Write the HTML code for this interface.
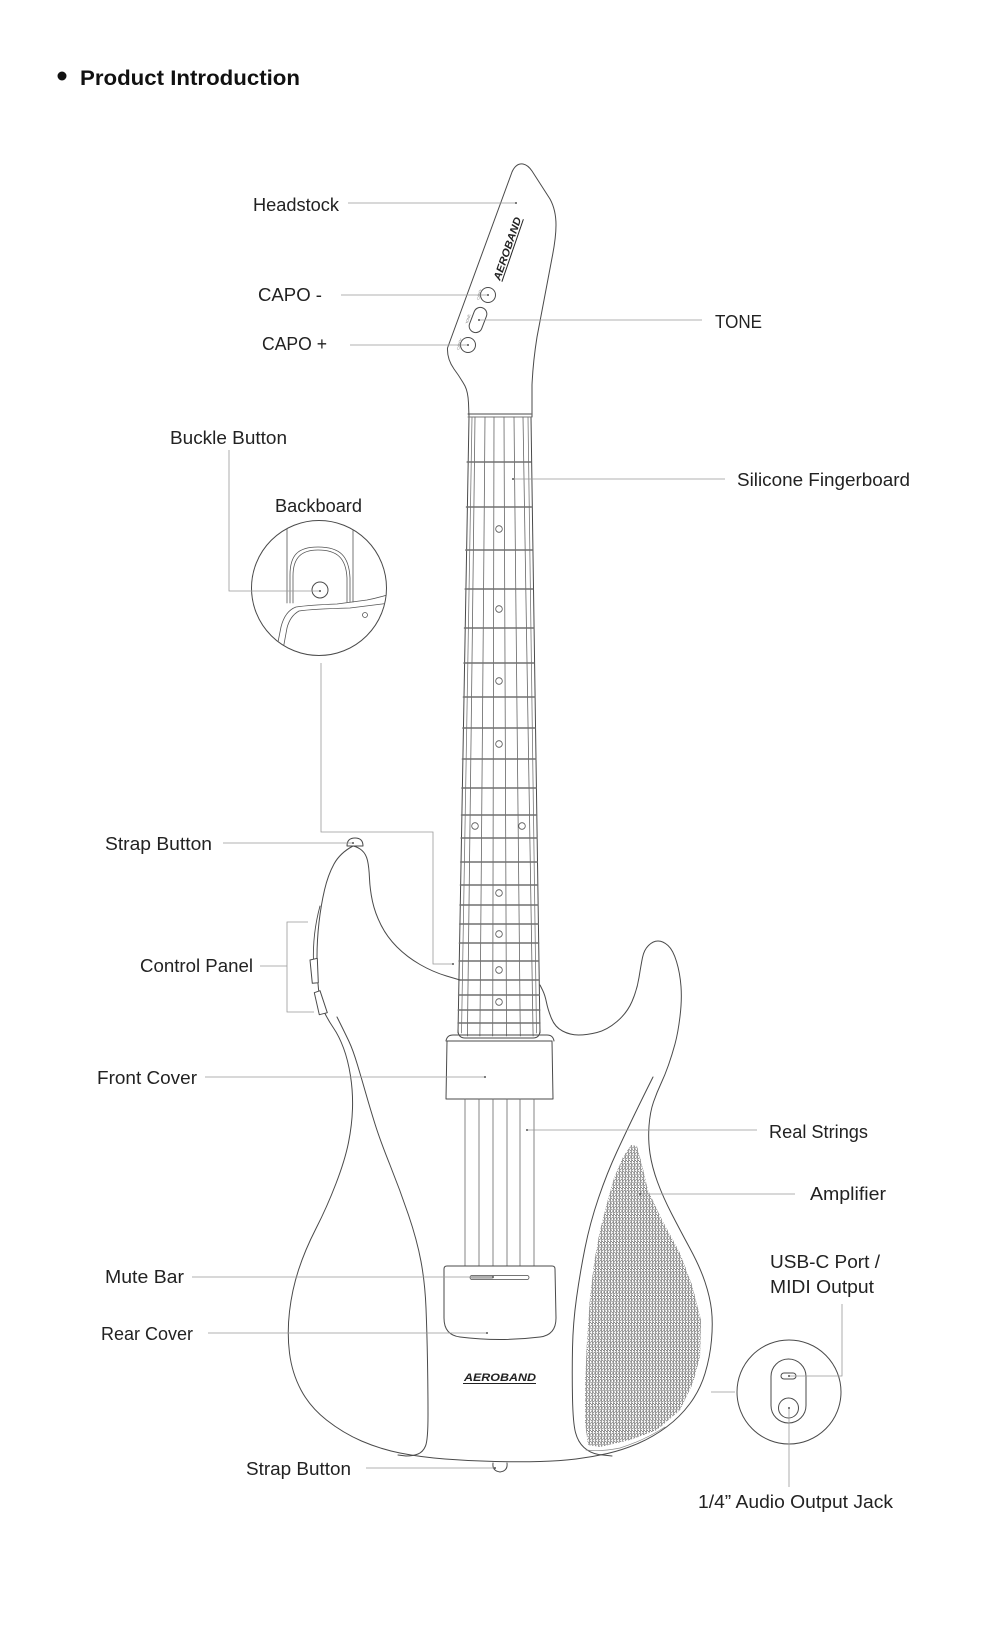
<!DOCTYPE html>
<html>
<head>
<meta charset="utf-8">
<style>
html,body{margin:0;padding:0;background:#fff;}
svg{display:block;}
</style>
</head>
<body>
<svg xmlns="http://www.w3.org/2000/svg" width="1000" height="1642" viewBox="0 0 1000 1642" font-family="'Liberation Sans', Arial, sans-serif">
<defs>
  <pattern id="dots" patternUnits="userSpaceOnUse" width="3.0" height="5.4">
    <circle cx="0.75" cy="1.35" r="1.05" fill="none" stroke="#555" stroke-width="0.55"/>
    <circle cx="2.25" cy="4.05" r="1.05" fill="none" stroke="#555" stroke-width="0.55"/>
  </pattern>
  <clipPath id="bbclip"><circle cx="319" cy="588" r="67"/></clipPath>
</defs>
<rect width="1000" height="1642" fill="#fff"/>

<!-- Title -->
<circle cx="62" cy="76" r="4.5" fill="#111"/>
<text x="80" y="85" font-size="21" font-weight="bold" fill="#111" textLength="220" lengthAdjust="spacingAndGlyphs">Product Introduction</text>

<!-- ===== Guitar drawing ===== -->
<g fill="none" stroke="#4a4a4a" stroke-width="1" stroke-linecap="round" stroke-linejoin="round">
  <!-- Headstock -->
  <path d="M469,417 L468.5,403 Q468,392 465,386 Q460,377 454,369 Q447,359 447.5,348 L512,172 Q516,163 523,164 Q528,165 532,171 L550,199 Q556,210 556,225 Q556,238 552,258 L537,337 Q533,362 532,385 L532,417"/>
  <!-- headstock buttons -->
  <circle cx="488" cy="295" r="7.5"/>
  <rect x="471.5" y="307" width="13" height="26" rx="6.5" transform="rotate(21 478 320)"/>
  <circle cx="468" cy="345" r="7.5"/>

  <!-- Neck -->
  <path d="M469,417 L458,1033"/>
  <path d="M531,417 L540,1033"/>
  <path d="M472,417 L461.5,1033" stroke="#777" stroke-width="0.8"/>
  <path d="M528,417 L536.5,1033" stroke="#777" stroke-width="0.8"/>
  <path d="M458,1030 Q458,1038 465,1038 L533,1038 Q540,1038 540,1030"/>
  <line x1="468" y1="414" x2="531" y2="414"/>
  <line x1="468" y1="417" x2="531" y2="417" stroke="#777"/>

  <!-- Strings on neck -->
  <g stroke="#666" stroke-width="0.8">
    <line x1="475" y1="417" x2="467.4" y2="1036"/>
    <line x1="485" y1="417" x2="479.9" y2="1036"/>
    <line x1="494" y1="417" x2="492.7" y2="1036"/>
    <line x1="504" y1="417" x2="506.5" y2="1036"/>
    <line x1="514" y1="417" x2="520.3" y2="1036"/>
    <line x1="523" y1="417" x2="533.1" y2="1036"/>
  </g>

  <!-- Frets -->
  <g stroke="#707070" stroke-width="1.5">
    <line x1="467.2" y1="462" x2="530.8" y2="462"/>
    <line x1="466.5" y1="507" x2="531.5" y2="507"/>
    <line x1="465.8" y1="550" x2="532.2" y2="550"/>
    <line x1="465.2" y1="589" x2="532.8" y2="589"/>
    <line x1="464.5" y1="628" x2="533.5" y2="628"/>
    <line x1="464.0" y1="663" x2="534.0" y2="663"/>
    <line x1="463.4" y1="697" x2="534.6" y2="697"/>
    <line x1="462.9" y1="728" x2="535.1" y2="728"/>
    <line x1="462.4" y1="759" x2="535.6" y2="759"/>
    <line x1="461.9" y1="788" x2="536.1" y2="788"/>
    <line x1="461.5" y1="815" x2="536.5" y2="815"/>
    <line x1="461.1" y1="838" x2="536.9" y2="838"/>
    <line x1="460.7" y1="862" x2="537.3" y2="862"/>
    <line x1="460.4" y1="885" x2="537.6" y2="885"/>
    <line x1="460.0" y1="905" x2="538.0" y2="905"/>
    <line x1="459.7" y1="924" x2="538.3" y2="924"/>
    <line x1="459.4" y1="943" x2="538.6" y2="943"/>
    <line x1="459.1" y1="961" x2="538.9" y2="961"/>
    <line x1="458.8" y1="980" x2="539.2" y2="980"/>
    <line x1="458.6" y1="995" x2="539.4" y2="995"/>
    <line x1="458.3" y1="1010" x2="539.7" y2="1010"/>
    <line x1="458.1" y1="1023" x2="539.9" y2="1023"/>
  </g>

  <!-- Fret markers -->
  <g fill="#fff" stroke="#555" stroke-width="0.8">
    <circle cx="499" cy="529" r="3.3"/>
    <circle cx="499" cy="609" r="3.3"/>
    <circle cx="499" cy="681" r="3.3"/>
    <circle cx="499" cy="744" r="3.3"/>
    <circle cx="475" cy="826" r="3.3"/>
    <circle cx="522" cy="826" r="3.3"/>
    <circle cx="499" cy="893" r="3.3"/>
    <circle cx="499" cy="934" r="3.3"/>
    <circle cx="499" cy="970" r="3.3"/>
    <circle cx="499" cy="1002" r="3.3"/>
  </g>

  <!-- Body outline -->
  <path d="M353,846 Q340,853 334,864 Q328,875 324.5,890 Q321,905 319,922.5 Q317,940 317,957.5 Q317,975 318.5,989 Q320,1003 324,1011.5 Q328,1020 333.5,1028 Q339,1036 343.5,1048 Q348,1060 350.5,1076 Q353,1092 352.5,1108.5 Q352,1125 348.5,1142.5 Q345,1160 336,1183.5 Q327,1207 316,1228.5 Q305,1250 298.5,1270 Q292,1290 289.5,1311.5 Q287,1333 289.5,1353 Q292,1373 301,1390 Q310,1407 326.5,1420 Q343,1433 361.5,1441 Q380,1449 400,1453 Q420,1457 445,1459 Q470,1461 495,1461.5 Q520,1462 540,1461.5 Q560,1461 576,1459 Q592,1457 607.5,1453.5 Q623,1450 638,1443.5 Q653,1437 666.5,1427 Q680,1417 690,1403.5 Q700,1390 705,1373.5 Q710,1357 711.5,1340 Q713,1323 711.5,1310 Q710,1297 705,1282 Q700,1267 690,1248.5 Q680,1230 671.5,1213.5 Q663,1197 657.5,1182 Q652,1167 650,1153.5 Q648,1140 649,1126 Q650,1112 653.5,1102 Q657,1092 661,1083.5 Q665,1075 668.5,1065 Q672,1055 675,1044 Q678,1033 680,1016.5 Q682,1000 681,986.5 Q680,973 676.5,961.5 Q673,950 668,945.5 Q663,941 658,941 Q653,941 648.5,945.5 Q644,950 642.5,957.5 Q641,965 639,977.5 Q637,990 632,1001.5 Q627,1013 617,1021.5 Q607,1030 597,1032.5 Q587,1035 578.5,1035 Q570,1035 562.5,1031 Q555,1027 551.5,1018.5 Q548,1010 546.5,1002.5 Q545,995 542.5,990 L540,985"/>
  <!-- Left horn inner edge -->
  <path d="M353,846 Q358,847 362,850.5 Q366,854 367.5,860.5 Q369,867 369.5,878.5 Q370,890 372.5,901.5 Q375,913 381,925 Q387,937 397,947 Q407,957 420,964.5 Q433,972 446.5,976 L460,980"/>
  <!-- Left panel seam -->
  <path d="M337,1017 Q345,1033 349,1041.5 Q353,1050 357.5,1065 Q362,1080 366,1094 Q370,1108 375,1124 Q380,1140 390,1165 Q400,1190 408.5,1215 Q417,1240 421,1261.5 Q425,1283 426,1308 Q427,1333 427.5,1361.5 Q428,1390 428,1415 Q428,1440 425.5,1446 Q423,1452 418,1454 Q413,1456 406,1456 L398,1455"/>
  <!-- Amplifier panel left edge -->
  <path d="M653,1077 Q643,1097 635,1113.5 Q627,1130 617,1151.5 Q607,1173 598.5,1198 Q590,1223 585,1248 Q580,1273 576.5,1298 Q573,1323 572.5,1348 Q572,1373 572.5,1398 Q573,1423 575.5,1432.5 Q578,1442 584,1447.5 Q590,1453 598.5,1454.5 L612,1456"/>
  <path d="M586,1450 Q600,1452 620,1448 Q645,1440 665,1427" stroke="#888" stroke-width="0.7"/>

  <!-- Control panel -->
  <path d="M320,906 C314,928 313,948 313.5,962" stroke-width="0.9"/>
  <path d="M310,960 L317.3,958.3 L318.3,982.7 L312.3,983.3 Z" fill="#fff"/>
  <path d="M314.3,992.7 L320,990.7 L327.3,1012.7 L319.3,1014.7 Z" fill="#fff"/>

  <!-- Strap buttons -->
  <path d="M347,846 Q347,838 355,838 Q363,838 363,846 Z" fill="#fff"/>
  <path d="M493,1463 Q492,1471 500,1472 Q508,1471 507,1463" fill="#fff"/>

  <!-- Front cover -->
  <path d="M446,1041 Q447,1035 453,1035 L547,1035 Q553,1035 554,1041"/>
  <path d="M447,1041 L552,1041 L553,1099 L446,1099 Z"/>

  <!-- Strings below cover -->
  <g stroke="#666" stroke-width="0.8">
    <line x1="465" y1="1099" x2="465" y2="1266"/>
    <line x1="479" y1="1099" x2="479" y2="1266"/>
    <line x1="493" y1="1099" x2="493" y2="1266"/>
    <line x1="507" y1="1099" x2="507" y2="1266"/>
    <line x1="520" y1="1099" x2="520" y2="1266"/>
    <line x1="534" y1="1099" x2="534" y2="1266"/>
  </g>

  <!-- Rear cover -->
  <path d="M444,1269 Q444,1266 447,1266 L552,1266 Q555,1266 555,1269 L556,1318 Q556,1335 540,1337 Q500,1342 460,1337 Q444,1335 444,1318 Z"/>
  <!-- Mute bar -->
  <rect x="470" y="1275.5" width="59" height="4" rx="2" stroke-width="0.8"/>
  <rect x="470.5" y="1276" width="23" height="3" rx="1.5" fill="#bbb" stroke="none"/>

  <!-- Jack inset -->
  <circle cx="789" cy="1392" r="52"/>
  <rect x="771" y="1359" width="35" height="64" rx="17.5"/>
  <rect x="781" y="1373" width="15" height="6" rx="3"/>
  <circle cx="788.5" cy="1408" r="10"/>

  <!-- Backboard inset -->
  <circle cx="319" cy="588" r="67.5"/>
  <g clip-path="url(#bbclip)" stroke="#555" stroke-width="0.8">
    <line x1="287" y1="515" x2="287" y2="603"/>
    <line x1="353" y1="515" x2="353" y2="602"/>
    <path d="M290,603 L290,575 C290,555 298,547 318,547 C340,547 349,556 350,578 L350,602"/>
    <path d="M293,603 L293,576 C293,558 301,550 318,550 C337,550 346,558 347,578 L347,602"/>
    <path d="M276,652 L281,627 Q285,611 296,607 Q310,605 337,604 L367,600 Q378,598 390,594"/>
    <path d="M282,655 L287,628 Q290,616 299,611 Q312,609 350,608 L390,603"/>
    <circle cx="365" cy="615" r="2.5"/>
  </g>
  <circle cx="320" cy="590" r="8"/>
</g>

<!-- Speaker grille dots -->
<path d="M631,1145 L637,1146 L642,1165 L648,1190 L662,1220 L680,1253 L692,1285 L701,1320 L700,1357 L693,1383 L680,1410 L657,1430 L630,1440 L600,1447 L588,1445 L585,1423 L585,1383 L587,1340 L590,1297 L594,1263 L600,1230 L607,1203 L614,1178 L623,1157 Z" fill="url(#dots)" stroke="none"/>

<!-- Logos -->
<g transform="translate(500,281) rotate(-71)">
  <text x="0" y="0" font-size="10.5" font-weight="bold" font-style="italic" fill="#222" textLength="66" lengthAdjust="spacingAndGlyphs">AEROBAND</text>
  <line x1="0" y1="2" x2="66" y2="2" stroke="#222" stroke-width="1"/>
</g>
<text x="464" y="1381" font-size="11" font-weight="bold" font-style="italic" fill="#222" textLength="72" lengthAdjust="spacingAndGlyphs">AEROBAND</text>
<line x1="463" y1="1383.5" x2="536" y2="1383.5" stroke="#222" stroke-width="1"/>

<!-- tiny button captions -->
<g font-size="3.5" fill="#777">
  <text transform="translate(479,300) rotate(-75)">CAPO-</text>
  <text transform="translate(468,324) rotate(-75)">TONE</text>
  <text transform="translate(459,350) rotate(-75)">CAPO+</text>
</g>

<!-- ===== Leader lines ===== -->
<g fill="none" stroke="#999" stroke-width="0.8">
  <line x1="348" y1="203" x2="516" y2="203"/>
  <line x1="341" y1="295" x2="488" y2="295"/>
  <line x1="350" y1="345" x2="468" y2="345"/>
  <line x1="479" y1="320" x2="702" y2="320"/>
  <polyline points="229,450 229,591 320,591"/>
  <line x1="513" y1="479" x2="725" y2="479"/>
  <polyline points="321,663 321,832 433,832 433,964 453,964"/>
  <line x1="223" y1="843" x2="353" y2="843"/>
  <line x1="260" y1="966" x2="287" y2="966"/>
  <polyline points="308,922 287,922 287,1012 314,1012"/>
  <line x1="205" y1="1077" x2="485" y2="1077"/>
  <line x1="527" y1="1130" x2="757" y2="1130"/>
  <line x1="640" y1="1194" x2="795" y2="1194"/>
  <line x1="192" y1="1277" x2="493" y2="1277"/>
  <line x1="208" y1="1333" x2="487" y2="1333"/>
  <polyline points="789,1376 842,1376 842,1304"/>
  <line x1="789" y1="1408" x2="789" y2="1487"/>
  <line x1="711" y1="1392" x2="735" y2="1392"/>
  <line x1="366" y1="1468" x2="495" y2="1468"/>
</g>
<g fill="#555">
  <circle cx="516" cy="203" r="1"/>
  <circle cx="488" cy="295" r="1"/>
  <circle cx="468" cy="345" r="1"/>
  <circle cx="479" cy="320" r="1"/>
  <circle cx="320" cy="591" r="1"/>
  <circle cx="513" cy="479" r="1"/>
  <circle cx="453" cy="964" r="1"/>
  <circle cx="353" cy="843" r="1"/>
  <circle cx="485" cy="1077" r="1"/>
  <circle cx="527" cy="1130" r="1"/>
  <circle cx="640" cy="1194" r="1"/>
  <circle cx="493" cy="1277" r="1"/>
  <circle cx="487" cy="1333" r="1"/>
  <circle cx="789" cy="1376" r="1"/>
  <circle cx="789" cy="1408" r="1"/>
  <circle cx="495" cy="1468" r="1"/>
</g>

<!-- ===== Labels ===== -->
<g font-size="18" fill="#222">
  <text x="253" y="211" textLength="86" lengthAdjust="spacingAndGlyphs">Headstock</text>
  <text x="258" y="301" textLength="64" lengthAdjust="spacingAndGlyphs">CAPO -</text>
  <text x="262" y="350" textLength="65" lengthAdjust="spacingAndGlyphs">CAPO +</text>
  <text x="715" y="328" textLength="47" lengthAdjust="spacingAndGlyphs">TONE</text>
  <text x="170" y="444" textLength="117" lengthAdjust="spacingAndGlyphs">Buckle Button</text>
  <text x="275" y="512" textLength="87" lengthAdjust="spacingAndGlyphs">Backboard</text>
  <text x="737" y="486" textLength="173" lengthAdjust="spacingAndGlyphs">Silicone Fingerboard</text>
  <text x="105" y="850" textLength="107" lengthAdjust="spacingAndGlyphs">Strap Button</text>
  <text x="140" y="972" textLength="113" lengthAdjust="spacingAndGlyphs">Control Panel</text>
  <text x="97" y="1084" textLength="100" lengthAdjust="spacingAndGlyphs">Front Cover</text>
  <text x="769" y="1138" textLength="99" lengthAdjust="spacingAndGlyphs">Real Strings</text>
  <text x="810" y="1200" textLength="76" lengthAdjust="spacingAndGlyphs">Amplifier</text>
  <text x="770" y="1268" textLength="110" lengthAdjust="spacingAndGlyphs">USB-C Port /</text>
  <text x="770" y="1293" textLength="104" lengthAdjust="spacingAndGlyphs">MIDI Output</text>
  <text x="105" y="1283" textLength="79" lengthAdjust="spacingAndGlyphs">Mute Bar</text>
  <text x="101" y="1340" textLength="92" lengthAdjust="spacingAndGlyphs">Rear Cover</text>
  <text x="246" y="1475" textLength="105" lengthAdjust="spacingAndGlyphs">Strap Button</text>
  <text x="698" y="1508" textLength="195" lengthAdjust="spacingAndGlyphs">1/4” Audio Output Jack</text>
</g>
</svg>
</body>
</html>
